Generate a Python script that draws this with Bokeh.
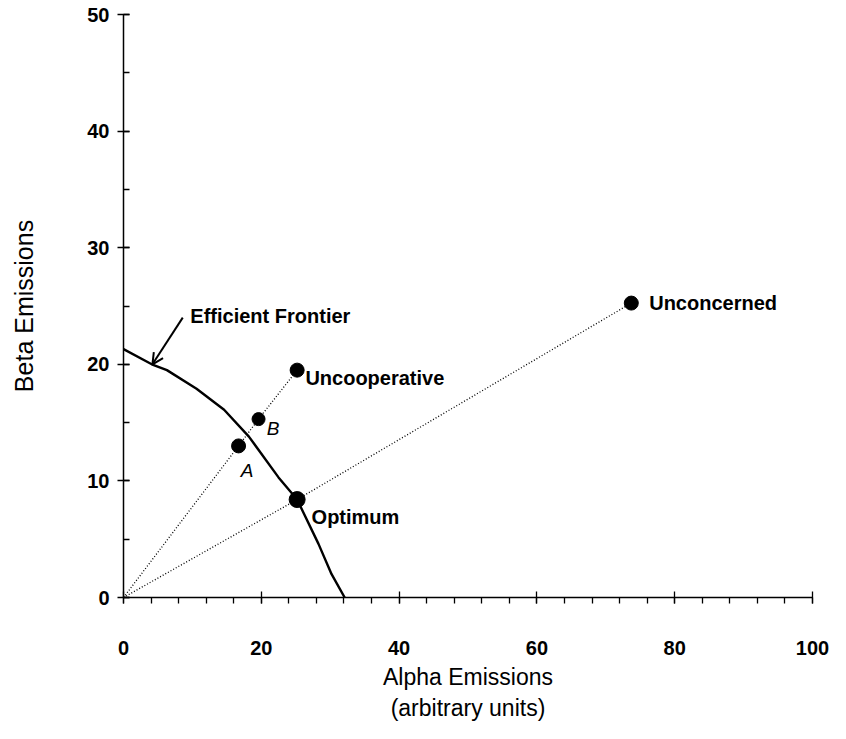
from bokeh.plotting import figure
from bokeh.models import SingleIntervalTicker, Label, Arrow, OpenHead, ColumnDataSource
from bokeh.embed import file_html
from bokeh.resources import INLINE

# ---- data ----
frontier_alpha = [0, 4.1, 6.3, 10.6, 14.6, 18.2, 22.5, 25.2, 28.3, 30.2, 32.1]
frontier_beta = [21.3, 20.0, 19.5, 17.9, 16.1, 13.8, 10.3, 8.4, 4.6, 2.0, 0.0]

point_names = ["A", "B", "Uncooperative", "Optimum", "Unconcerned"]
point_alpha = [16.7, 19.6, 25.2, 25.2, 73.7]
point_beta = [13.0, 15.3, 19.5, 8.4, 25.25]

ray1_alpha = [0, 16.7, 19.6, 25.2]
ray1_beta = [0, 13.0, 15.3, 19.5]
ray2_alpha = [0, 25.2, 73.7]
ray2_beta = [0, 8.4, 25.25]

x_ticks_interval = 20
y_ticks_interval = 10

FONT = "Liberation Sans"

p = figure(width=830, height=723, x_range=(0, 100), y_range=(0, 50),
           output_backend="svg", toolbar_location=None,
           min_border_left=123, min_border_right=18,
           min_border_top=14, min_border_bottom=126)
p.outline_line_color = None
p.grid.visible = False
p.background_fill_color = "white"

# axes
xa = p.xaxis[0]
xa.ticker = SingleIntervalTicker(interval=x_ticks_interval, num_minor_ticks=5)
xa.major_tick_in = 6
xa.major_tick_out = 6
xa.minor_tick_in = 0
xa.minor_tick_out = 6
xa.axis_line_width = 1.5
xa.major_tick_line_width = 1.3
xa.minor_tick_line_width = 1.3
xa.major_label_standoff = 37
xa.major_label_text_font = FONT
xa.major_label_text_font_style = "bold"
xa.major_label_text_font_size = "20px"
xa.major_label_text_color = "black"
xa.axis_line_color = "black"
xa.major_tick_line_color = "black"
xa.minor_tick_line_color = "black"
xa.axis_label = "Alpha Emissions\n(arbitrary units)"
xa.axis_label_text_font = FONT
xa.axis_label_text_font_style = "normal"
xa.axis_label_text_font_size = "23px"
xa.axis_label_text_color = "black"
xa.axis_label_standoff = 6

ya = p.yaxis[0]
ya.ticker = SingleIntervalTicker(interval=y_ticks_interval, num_minor_ticks=2)
ya.major_tick_in = 6
ya.major_tick_out = 6
ya.minor_tick_in = 6
ya.minor_tick_out = 0
ya.axis_line_width = 1.5
ya.major_tick_line_width = 1.3
ya.minor_tick_line_width = 1.3
ya.major_label_standoff = 8
ya.major_label_text_font = FONT
ya.major_label_text_font_style = "bold"
ya.major_label_text_font_size = "20px"
ya.major_label_text_color = "black"
ya.axis_line_color = "black"
ya.major_tick_line_color = "black"
ya.minor_tick_line_color = "black"
ya.axis_label = "Beta Emissions"
ya.axis_label_text_font = FONT
ya.axis_label_text_font_style = "normal"
ya.axis_label_text_font_size = "25px"
ya.axis_label_text_color = "black"
ya.axis_label_standoff = 46

# dotted rays
p.line(ray1_alpha, ray1_beta, line_color="black", line_width=1.3, line_dash="1 2")
p.line(ray2_alpha, ray2_beta, line_color="black", line_width=1.3, line_dash="1 2")

# efficient frontier
p.line(frontier_alpha, frontier_beta, line_color="black", line_width=2.4)

# points
sizes = [14, 13, 14, 16, 14]
src = ColumnDataSource(dict(x=point_alpha, y=point_beta, name=point_names, size=sizes))
p.scatter("x", "y", size="size", source=src, fill_color="black", line_color="black")

# arrow to frontier
p.add_layout(Arrow(end=OpenHead(size=11, line_width=2, line_color="black"),
                   x_start=8.6, y_start=24.0, x_end=4.2, y_end=20.0,
                   line_width=2, line_color="black"))

def lab(text, x, y, size="20px", style="bold", align="left", baseline="middle"):
    p.add_layout(Label(x=x, y=y, text=text, text_font=FONT, text_font_size=size,
                       text_font_style=style, text_align=align, text_baseline=baseline,
                       text_color="black"))

lab("Efficient Frontier", 9.7, 24.1)
lab("Uncooperative", 26.4, 18.8)
lab("B", 20.8, 14.5, size="19px", style="italic")
lab("A", 17.0, 10.9, size="19px", style="italic")
lab("Optimum", 27.3, 6.9)
lab("Unconcerned", 76.3, 25.3)

open("out.html", "w").write(file_html(p, INLINE))
